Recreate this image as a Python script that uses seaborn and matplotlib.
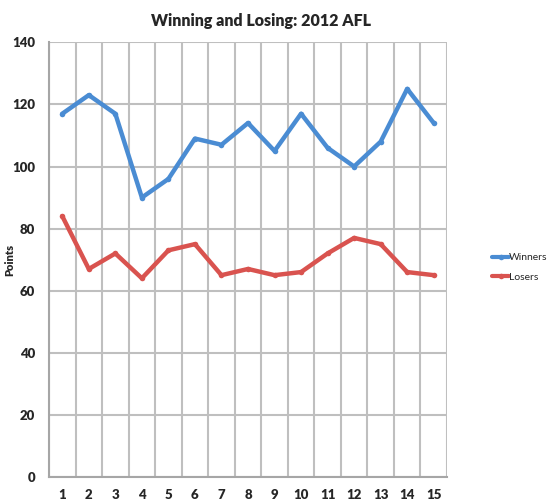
import numpy as np
import pandas as pd
import matplotlib
matplotlib.use("Agg")
import matplotlib.pyplot as plt
import seaborn as sns
from matplotlib.ticker import MultipleLocator, FixedLocator

rounds = list(range(1, 16))
winners = [117, 123, 117, 90, 96, 109, 107, 114, 105, 117, 106, 100, 108, 125, 114]
losers = [84, 67, 72, 64, 73, 75, 65, 67, 65, 66, 72, 77, 75, 66, 65]
series_names = ["Winners", "Losers"]
colors = ["#4A8CD3", "#D9534F"]

df = pd.DataFrame({"Round": rounds * 2,
                   "Points": winners + losers,
                   "Series": [series_names[0]] * 15 + [series_names[1]] * 15})

sns.set_theme(style="white")
plt.rcParams['font.family'] = ['Lato', 'DejaVu Sans']

fig = plt.figure(figsize=(5.55, 5.03), dpi=100)
ax = fig.add_axes([0.0883, 0.0517, 0.7171, 0.8642])

sns.lineplot(data=df, x="Round", y="Points", hue="Series", palette=colors,
             linewidth=3.2, marker="o", markersize=4, markeredgewidth=0, ax=ax)

ax.set_xlim(0.5, 15.5)
ax.set_ylim(0, 140)
ax.yaxis.set_major_locator(MultipleLocator(20))
ax.xaxis.set_major_locator(FixedLocator(rounds))
ax.xaxis.set_minor_locator(FixedLocator(np.arange(0.5, 16, 1)))
ax.grid(False)
ax.grid(which="minor", axis="x", color="#BFBFBF", linewidth=1.5)
ax.grid(which="major", axis="y", color="#BFBFBF", linewidth=1.5)
ax.set_axisbelow(True)
for s in ["top", "right"]:
    ax.spines[s].set_visible(False)
for s in ["left", "bottom"]:
    ax.spines[s].set_color("#A6A6A6")
    ax.spines[s].set_linewidth(1.5)

ax.tick_params(axis="both", which="both", length=0)
ax.tick_params(axis="x", pad=9)
ax.tick_params(axis="y", pad=10)
for lab in ax.get_xticklabels() + ax.get_yticklabels():
    lab.set_fontweight("heavy")
    lab.set_fontsize(9.5)

ax.set_xlabel("")
ax.set_ylabel("Points", fontsize=8, fontweight="heavy")
ax.yaxis.set_label_coords(-0.085, 0.5)
fig.suptitle("Winning and Losing: 2012 AFL", fontsize=11.5, fontweight="heavy",
             x=0.471, y=0.975)

leg = ax.legend(loc="center left", bbox_to_anchor=(1.09, 0.482), frameon=False,
                fontsize=7.5, handlelength=1.6, handletextpad=0.0,
                labelspacing=1.0)
for h in leg.get_lines():
    h.set_linewidth(3)

fig.savefig("out.png", dpi=100)
